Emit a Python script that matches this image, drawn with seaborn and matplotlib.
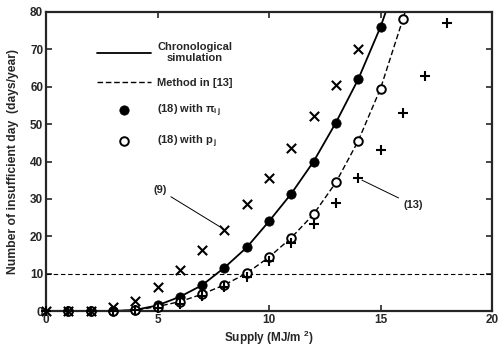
import matplotlib
matplotlib.use("Agg")
import matplotlib.pyplot as plt
import seaborn as sns
import numpy as np
import pandas as pd

# ---- data ----
sim_x = [0, 1, 2, 3, 4, 5, 6, 7, 8, 9, 10, 11, 12, 13, 14, 15, 16]
sim_y = [0, 0, 0, 0, 0.3, 1.5, 3.8, 6.9, 11.6, 17.0, 24.0, 31.4, 40.0, 50.4, 62.0, 76.0, 93.0]

m13_x = [0, 1, 2, 3, 4, 5, 6, 7, 8, 9, 10, 11, 12, 13, 14, 15, 16, 17]
m13_y = [0, 0, 0, 0, 0.2, 1.2, 2.5, 4.5, 7.0, 10.1, 14.4, 19.6, 25.9, 34.4, 45.5, 59.5, 78.0, 97.0]

pij_x = [1, 2, 3, 4, 5, 6, 7, 8, 9, 10, 11, 12, 13, 14, 15]
pij_y = [0, 0, 0, 0.3, 1.5, 3.8, 6.9, 11.6, 17.0, 24.0, 31.4, 40.0, 50.4, 62.0, 76.0]

pj_x = [1, 2, 3, 4, 5, 6, 7, 8, 9, 10, 11, 12, 13, 14, 15, 16]
pj_y = [0, 0, 0, 0.2, 1.2, 2.5, 4.5, 7.0, 10.1, 14.4, 19.6, 25.9, 34.4, 45.5, 59.5, 78.0]

eq9_x = [0, 1, 2, 3, 4, 5, 6, 7, 8, 9, 10, 11, 12, 13, 14]
eq9_y = [0, 0, 0, 1.1, 2.8, 6.3, 10.9, 16.2, 21.8, 28.6, 35.6, 43.6, 52.2, 60.6, 70.2]

eq13_x = [0, 1, 2, 3, 4, 5, 6, 7, 8, 9, 10, 11, 12, 13, 14, 15, 16, 17, 18]
eq13_y = [0, 0, 0, 0, 0.2, 0.8, 2.0, 4.0, 6.5, 9.2, 13.4, 18.1, 23.4, 28.8, 35.5, 43.0, 52.9, 62.8, 77.1]

threshold = 10
xticks = [0, 5, 10, 15, 20]
yticks = [0, 10, 20, 30, 40, 50, 60, 70, 80]

lbl_sim = "Chronological\nsimulation"
lbl_m13 = "Method in [13]"
lbl_pij = r"(18) with $\pi_{i\,j}$"
lbl_pj = r"(18) with p$_{\,j}$"
xlabel = r"Supply (MJ/m $^{2}$)"
ylabel = "Number of insufficient day  (days/year)"

# ---- style ----
sns.set_style("ticks")
plt.rcParams["font.family"] = ["Liberation Sans", "DejaVu Sans"]
plt.rcParams["font.weight"] = "bold"
plt.rcParams["mathtext.fontset"] = "custom"
plt.rcParams["mathtext.rm"] = "Liberation Sans:bold"
plt.rcParams["mathtext.it"] = "Liberation Sans:bold"
plt.rcParams["mathtext.bf"] = "Liberation Sans:bold"
plt.rcParams["xtick.direction"] = "in"
plt.rcParams["ytick.direction"] = "in"

fig = plt.figure(figsize=(4.99, 3.5), dpi=100)
ax = fig.add_axes([46 / 499, (350 - 311) / 350, 446 / 499, 299 / 350])

df_sim = pd.DataFrame({"x": sim_x, "y": sim_y})
df_m13 = pd.DataFrame({"x": m13_x, "y": m13_y})

sns.lineplot(data=df_sim, x="x", y="y", ax=ax, color="black", lw=1.3,
             label=lbl_sim, sort=False)
sns.lineplot(data=df_m13, x="x", y="y", ax=ax, color="black", lw=1.0,
             label=lbl_m13, sort=False, dashes=False)
ax.lines[-1].set_dashes([4, 2])

ax.axhline(threshold, color="black", lw=0.8, dashes=(4, 2.5))

sns.scatterplot(x=pij_x, y=pij_y, ax=ax, marker="o", s=45, color="black",
                edgecolor="black", label=lbl_pij, clip_on=False, zorder=5)
sns.scatterplot(x=pj_x, y=pj_y, ax=ax, marker="o", s=38, facecolor="white",
                edgecolor="black", linewidth=1.4, label=lbl_pj, clip_on=False, zorder=5)
sns.scatterplot(x=eq9_x, y=eq9_y, ax=ax, marker="x", s=45, color="black",
                linewidth=1.5, clip_on=False, zorder=6)
sns.scatterplot(x=eq13_x, y=eq13_y, ax=ax, marker="+", s=55, color="black",
                linewidth=1.5, clip_on=False, zorder=6)

ax.set_xlim(0, 20)
ax.set_ylim(0, 80)
ax.set_xticks(xticks)
ax.set_yticks(yticks)
ax.tick_params(axis="both", labelsize=8.5, length=4, width=1.2,
               top=True, right=True, pad=2)
for lab in ax.get_xticklabels() + ax.get_yticklabels():
    lab.set_fontweight("bold")
for sp in ax.spines.values():
    sp.set_visible(True)
    sp.set_linewidth(1.6)

ax.set_xlabel(xlabel, fontsize=8.5, fontweight="bold", labelpad=2)
ax.set_ylabel(ylabel, fontsize=8.7, fontweight="bold", labelpad=8)

ax.annotate("(9)", xy=(8, 21.8), xytext=(5.1, 32.4), fontsize=8,
            fontweight="bold", ha="center", va="center",
            arrowprops=dict(arrowstyle="-", color="black", lw=0.7,
                            shrinkA=1, shrinkB=4))
ax.annotate("(13)", xy=(14, 35.5), xytext=(16.45, 28.4), fontsize=8,
            fontweight="bold", ha="center", va="center",
            arrowprops=dict(arrowstyle="-", color="black", lw=0.7,
                            shrinkA=1, shrinkB=3))

leg = ax.legend(loc="upper left", bbox_to_anchor=(0.105, 0.915), frameon=False,
                fontsize=8, handlelength=4.8, handletextpad=0.6,
                labelspacing=1.3, borderaxespad=0)
for t in leg.get_texts():
    t.set_fontweight("bold")
    t.set_multialignment("center")

fig.savefig("out.png", dpi=100)
